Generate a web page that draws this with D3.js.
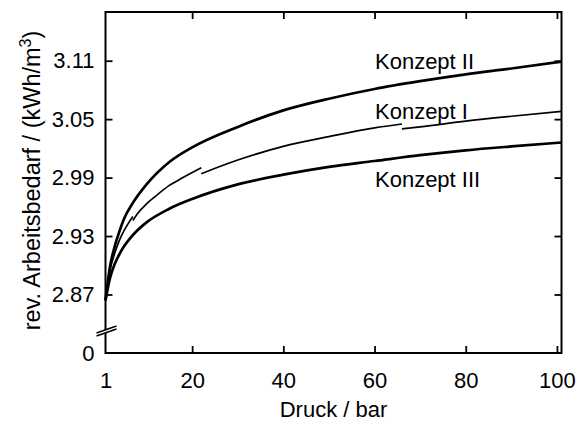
<!DOCTYPE html>
<html>
<head>
<meta charset="utf-8">
<script src="https://cdn.jsdelivr.net/npm/d3@7"></script>
<style>
  html, body { margin: 0; padding: 0; background: #fff; }
  svg { display: block; }
  text { font-family: "Liberation Sans", Arial, Helvetica, sans-serif; fill: #000; }
</style>
</head>
<body>
<svg id="chart" width="578" height="421"></svg>
<script>
// Pressure grid (bar) for the smooth curves
const pressure = [1, 2, 3, 4, 5, 7, 10, 15, 20, 30, 40, 50, 60, 70, 80, 90, 101];

// Reversible work demand (kWh/m³)
const konzeptII  = [2.864, 2.899, 2.919, 2.934, 2.947, 2.964, 2.983, 3.006, 3.021, 3.042, 3.059, 3.071, 3.081, 3.089, 3.096, 3.102, 3.109];
const konzeptIII = [2.864, 2.887, 2.901, 2.911, 2.919, 2.931, 2.944, 2.958, 2.968, 2.983, 2.993, 3.001, 3.007, 3.013, 3.018, 3.022, 3.026];

// Konzept I is computed piecewise, so its curve comes in separate segments
const konzeptIPressure1 = [1, 2, 3, 4, 5, 6, 7];
const konzeptIValues1   = [2.864, 2.895, 2.912, 2.925, 2.935, 2.943, 2.950];
const konzeptIPressure2 = [7, 8, 10, 12, 15, 18, 22];
const konzeptIValues2   = [2.946, 2.953, 2.963, 2.971, 2.982, 2.990, 3.000];
const konzeptIPressure3 = [22, 30, 40, 50, 60, 66];
const konzeptIValues3   = [2.994, 3.008, 3.022, 3.032, 3.041, 3.045];
const konzeptIPressure4 = [66, 70, 80, 90, 101];
const konzeptIValues4   = [3.040, 3.042, 3.048, 3.053, 3.058];

// Axis ticks
const xTicks = [1, 20, 40, 60, 80, 100];
const yTicks = [0, 2.87, 2.93, 2.99, 3.05, 3.11];

// Curve labels: name and the value level of the label baseline
const labelNames  = ["Konzept II", "Konzept I", "Konzept III"];
const labelValues = [3.1014, 3.050, 2.980];

const margin = { top: 12, left: 105.5 };
const width = 456, height = 341;
const fontSize = 22;

const svg = d3.select("#chart");
const g = svg.append("g").attr("transform", `translate(${margin.left},${margin.top})`);

const x = d3.scaleLinear().domain([1, 101]).range([0, width]);
// Broken value axis: 0 at the bottom, then a jump to the 2.84…3.16 band
const y = d3.scaleLinear().domain([0, 2.84, 3.16]).range([height, 311.7, 0]);

// Frame
g.append("rect")
  .attr("x", 0).attr("y", 0).attr("width", width).attr("height", height)
  .attr("fill", "none").attr("stroke", "#000").attr("stroke-width", 2);

// Axes with inward ticks
const styleAxis = sel => {
  sel.select(".domain").remove();
  sel.selectAll(".tick line").attr("stroke", "#000").attr("stroke-width", 1.8);
  sel.selectAll(".tick text").attr("font-size", fontSize).attr("fill", "#000")
     .style("font-family", '"Liberation Sans", Arial, sans-serif');
};

g.append("g")
  .call(d3.axisLeft(y).tickValues(yTicks).tickSize(-7).tickPadding(11)
        .tickFormat(d => d === 0 ? "0" : d3.format(".2f")(d)))
  .call(styleAxis)
  .call(s => s.selectAll(".tick").filter(d => d === 0).select("line").remove());

g.append("g")
  .attr("transform", `translate(${width},0)`)
  .call(d3.axisRight(y).tickValues(yTicks.filter(d => d > 0)).tickSize(-7).tickFormat(""))
  .call(styleAxis);

g.append("g")
  .attr("transform", `translate(0,${height})`)
  .call(d3.axisBottom(x).tickValues(xTicks).tickSize(-7).tickPadding(19))
  .call(styleAxis)
  .call(s => s.selectAll(".tick").filter(d => d === 1).select("line").remove());

g.append("g")
  .call(d3.axisTop(x).tickValues(xTicks.filter(d => d > 1)).tickSize(-7).tickFormat(""))
  .call(styleAxis);

// Axis break marks on the value axis
const breakY = height - 22;
const bx0 = -9, bx1 = 11, rise = 7, gap = 3;
g.append("path")
  .attr("d", `M${bx0},${breakY + rise / 2 - gap / 2} L${bx1},${breakY - rise / 2 - gap / 2} L${bx1},${breakY - rise / 2 + gap / 2} L${bx0},${breakY + rise / 2 + gap / 2} Z`)
  .attr("fill", "#fff");
[-gap / 2, gap / 2].forEach(off => {
  g.append("line")
    .attr("x1", bx0).attr("y1", breakY + rise / 2 + off)
    .attr("x2", bx1).attr("y2", breakY - rise / 2 + off)
    .attr("stroke", "#000").attr("stroke-width", 1.6);
});

// Curves
const line = d3.line().x(d => x(d[0])).y(d => y(d[1])).curve(d3.curveMonotoneX);
const zip = (xs, ys) => xs.map((v, i) => [v, ys[i]]);

const drawCurve = (pts, w) => g.append("path")
  .attr("d", line(pts))
  .attr("fill", "none").attr("stroke", "#000").attr("stroke-width", w)
  .attr("stroke-linejoin", "round");

drawCurve(zip(pressure, konzeptII), 2.7);
drawCurve(zip(pressure, konzeptIII), 2.7);
[[konzeptIPressure1, konzeptIValues1], [konzeptIPressure2, konzeptIValues2],
 [konzeptIPressure3, konzeptIValues3], [konzeptIPressure4, konzeptIValues4]]
  .forEach(([p, v]) => drawCurve(zip(p, v), 1.7));

// Curve labels
labelNames.forEach((name, i) => {
  g.append("text")
    .attr("x", x(60.1))
    .attr("y", y(labelValues[i]))
    .attr("font-size", fontSize)
    .text(name);
});

// Axis titles
svg.append("text")
  .attr("x", margin.left + width / 2)
  .attr("y", 417)
  .attr("text-anchor", "middle")
  .attr("font-size", fontSize)
  .text("Druck / bar");

const yTitle = svg.append("text")
  .attr("transform", `translate(40,${margin.top + height / 2 - 2}) rotate(-90)`)
  .attr("text-anchor", "middle")
  .attr("font-size", 23.5);
yTitle.append("tspan").text("rev. Arbeitsbedarf / (kWh/m");
yTitle.append("tspan").attr("dy", -9).attr("font-size", 16).text("3");
yTitle.append("tspan").attr("dy", 9).text(")");
</script>
</body>
</html>
